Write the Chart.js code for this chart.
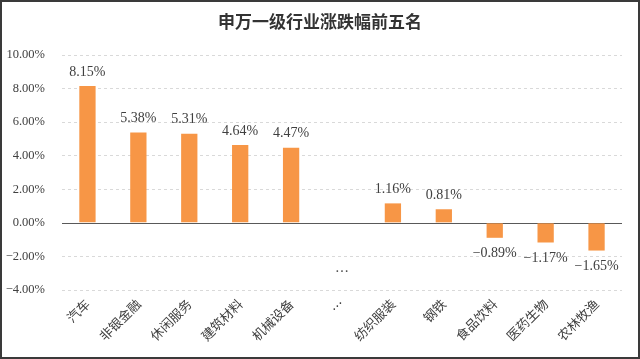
<!DOCTYPE html>
<html>
<head>
<meta charset="utf-8">
<script src="https://cdn.jsdelivr.net/npm/chart.js@4.4.1/dist/chart.umd.min.js"></script>
<style>
  html, body { margin: 0; padding: 0; background: #fff; }
  #wrap { width: 640px; height: 359px; }
</style>
</head>
<body>
<div id="wrap"><canvas id="chart" width="640" height="359"></canvas></div>
<script>
const TITLE = '申万一级行业涨跌幅前五名';
const categories = ['汽车', '非银金融', '休闲服务', '建筑材料', '机械设备', '…', '纺织服装', '钢铁', '食品饮料', '医药生物', '农林牧渔'];
const changes = [8.15, 5.38, 5.31, 4.64, 4.47, null, 1.16, 0.81, -0.89, -1.17, -1.65];
const yMin = -4;
const yMax = 10;
const yStep = 2;
const gapIndex = 5;       // the "…" column has no bar, only dots
const gapDotsValue = -2.87;

const TEXT = '#404040';
const BAR = '#F79646';
const NUM = '"Liberation Serif", "DejaVu Serif", serif';
const CJK = '"Noto Sans CJK SC", sans-serif';

// long minus like the original
const fmtPct = (v) => (v < 0 ? '\u2212' : '') + Math.abs(v).toFixed(2) + '%';

const decor = {
  id: 'decor',
  beforeDatasetsDraw(chart) {
    const { ctx, chartArea, scales } = chart;
    const y0 = Math.round(scales.y.getPixelForValue(0)) + 0.5;
    ctx.save();
    ctx.strokeStyle = '#595959';
    ctx.lineWidth = 1;
    ctx.beginPath();
    ctx.moveTo(chartArea.left, y0);
    ctx.lineTo(chartArea.right, y0);
    ctx.stroke();
    ctx.restore();
  },
  afterDatasetsDraw(chart) {
    const { ctx, scales } = chart;
    const meta = chart.getDatasetMeta(0);
    ctx.save();
    ctx.fillStyle = TEXT;
    ctx.font = '14px ' + NUM;
    ctx.textAlign = 'center';
    ctx.textBaseline = 'middle';
    meta.data.forEach((bar, i) => {
      const v = changes[i];
      if (v == null) return;
      const y = v >= 0 ? bar.y - 14 : bar.y + 16;
      ctx.fillText(fmtPct(v), bar.x, y);
    });
    // dots in the skipped column
    ctx.font = '14px ' + CJK;
    const gx = scales.x.getPixelForValue(gapIndex);
    ctx.fillText('…', gx, scales.y.getPixelForValue(gapDotsValue));
    ctx.restore();
  },
  afterDraw(chart) {
    const { ctx, width, height } = chart;
    ctx.save();
    ctx.fillStyle = '#333';
    ctx.font = 'bold 17px ' + CJK;
    ctx.textAlign = 'center';
    ctx.textBaseline = 'middle';
    ctx.fillText(TITLE, width / 2, 22);
    ctx.strokeStyle = '#3a3a3a';
    ctx.lineWidth = 2;
    ctx.strokeRect(1, 1, width - 2, height - 2);
    ctx.restore();
  }
};

new Chart(document.getElementById('chart').getContext('2d'), {
  type: 'bar',
  data: {
    labels: categories,
    datasets: [{
      data: changes,
      backgroundColor: BAR,
      barPercentage: 0.32,
      categoryPercentage: 1.0,
    }]
  },
  options: {
    responsive: false,
    animation: false,
    devicePixelRatio: 1,
    layout: { padding: { left: 0, top: 55, right: 18, bottom: 0 } },
    plugins: {
      legend: { display: false },
      title: { display: false },
      tooltip: { enabled: false },
    },
    scales: {
      y: {
        min: yMin,
        max: yMax,
        afterFit: (s) => { s.width = 62; },
        ticks: {
          stepSize: yStep,
          padding: 17,
          color: TEXT,
          font: { family: NUM, size: 12.5 },
          callback: (v) => fmtPct(v),
        },
        grid: {
          drawTicks: false,
          color: (c) => (c.tick && c.tick.value === 0 ? 'rgba(0,0,0,0)' : '#d9d9d9'),
        },
        border: { display: false, dash: [3, 3] },
      },
      x: {
        afterFit: (s) => { s.height = 69; },
        grid: { display: false, drawTicks: false },
        border: { display: false },
        ticks: {
          autoSkip: false,
          minRotation: 45,
          maxRotation: 45,
          padding: 6,
          color: TEXT,
          font: { family: CJK, size: 13 },
        },
      },
    },
  },
  plugins: [decor],
});
</script>
</body>
</html>
